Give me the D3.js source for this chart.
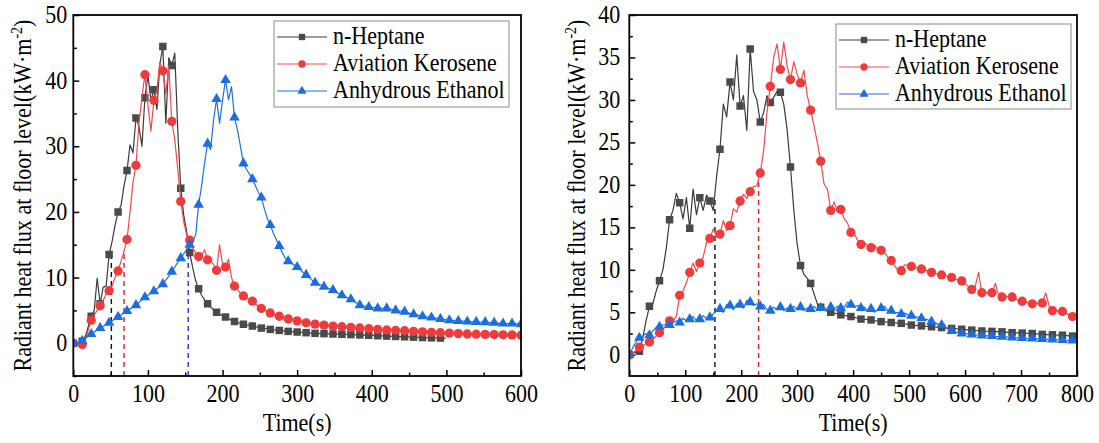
<!DOCTYPE html>
<html><head><meta charset="utf-8">
<script src="https://cdn.jsdelivr.net/npm/d3@7/dist/d3.min.js"></script>
<style>
body{margin:0;background:#fff}
svg{display:block}
text{font-family:"Liberation Serif","Times New Roman",serif;fill:#000}
</style>
</head><body>
<svg id="chart" width="1099" height="443"></svg>
<script>
// ---------------- DATA ----------------
const seriesNames = ["n-Heptane", "Aviation Kerosene", "Anhydrous Ethanol"];

// Left panel: values every 4 s starting at t = 0; a marker on every 3rd sample (12 s)
const leftStep = 4;
const leftMarkerEvery = 3;
const leftHeptane = [0,-0.1,0,0.3,1.0,2.5,4.1,5.0,9.9,6.0,8.5,8.7,13.5,15.5,18.0,20.0,21.0,24.0,26.3,30.2,29.0,34.3,33.0,30.0,37.4,40.8,37.0,38.6,35.6,42.5,45.2,33.5,43.5,42.3,44.2,32.5,23.6,19.5,17.0,13.8,11.5,9.5,8.3,7.3,6.6,6.0,5.5,5.1,4.7,4.4,4.2,4.0,3.7,3.5,3.3,3.15,3.0,2.9,2.8,2.7,2.6,2.5,2.4,2.3,2.25,2.2,2.1,2.05,2.0,1.95,1.9,1.85,1.8,1.77,1.73,1.7,1.67,1.63,1.6,1.57,1.53,
 1.5,1.48,1.46,1.45,1.43,1.42,1.4,1.38,1.37,1.35,1.34,1.32,1.3,1.29,1.27,1.26,1.24,1.22,1.2,1.18,1.16,1.14,1.12,1.1,1.08,1.06,1.04,1.02,1.0,0.99,0.97,0.95,0.93,0.92,0.9,0.88,0.86,0.85,0.83,0.82,0.8,0.79,0.78,0.76,0.75];
const leftKerosene = [0,-0.2,-0.3,-0.2,0.5,2.0,3.5,4.3,5.0,5.7,6.5,7.5,8.0,8.8,10.0,11.0,12.5,14.0,15.8,20.0,24.5,27.1,33.5,37.5,40.9,36.3,32.3,37.0,38.5,42.9,41.5,38.0,42.2,33.8,31.0,26.5,21.6,18.5,16.5,15.7,14.5,13.8,13.2,13.5,14.2,12.7,12.5,12.0,11.1,15.0,12.0,11.6,12.8,10.0,8.7,8.2,7.6,7.2,6.9,6.6,6.4,6.0,5.6,5.3,5.1,4.8,4.6,4.4,4.25,4.1,3.95,3.8,3.7,3.6,3.5,3.4,3.3,3.2,3.1,3.05,3.0,2.9,2.85,2.8,2.75,2.7,2.65,2.6,2.57,2.53,2.5,2.47,2.44,2.41,2.38,2.35,2.32,2.28,2.24,2.2,2.17,2.14,2.11,2.08,2.05,2.02,2.0,1.98,1.96,1.93,1.91,1.89,1.86,1.83,1.8,1.77,1.74,1.72,1.7,1.68,1.66,1.64,1.62,1.6,1.57,1.55,1.52,1.5,1.48,1.46,1.44,1.42,1.4,1.39,1.38,1.37,1.36,1.35,1.34,1.33,1.32,1.31,1.3,1.29,1.28,1.27,1.26,1.25,1.24,1.23,1.22];
const leftEthanol = [0,0.1,0.2,0.35,0.7,1.1,1.4,1.7,2.0,2.3,2.55,2.8,3.1,3.4,3.7,4.0,4.3,4.6,4.9,5.2,5.5,5.8,6.2,6.6,7.0,7.3,7.6,7.9,8.3,8.6,9.0,9.6,10.2,10.9,11.6,12.3,12.95,13.6,14.3,15.0,15.5,16.5,21.1,24.0,27.5,30.4,29.5,34.0,37.2,33.5,37.0,40.1,37.1,39.1,34.4,32.5,30.0,27.4,26.5,25.8,25.0,24.0,23.0,22.2,20.5,19.0,18.0,16.8,15.8,14.8,13.8,13.0,12.5,12.2,11.9,11.6,11.2,10.8,10.4,10.0,9.6,9.2,9.0,8.8,8.6,8.45,8.3,8.1,7.8,7.55,7.3,7.1,6.9,6.7,6.4,6.1,5.8,5.7,5.6,5.5,5.45,5.4,5.3,5.3,5.3,5.3,5.2,5.1,5.0,4.95,4.9,4.8,4.65,4.5,4.4,4.3,4.2,4.1,4.03,3.97,3.9,3.83,3.77,3.7,3.63,3.57,3.5,3.47,3.43,3.4,3.37,3.33,3.3,3.28,3.27,3.25,3.23,3.22,3.2,3.17,3.13,3.1,3.07,3.03,3.0,3.0,3.0,3.0,2.97,2.93,2.9];
const leftXTicks = [0,100,200,300,400,500,600];
const leftYTicks = [0,10,20,30,40,50];
// reference times (s) marked by dashed lines and the flux reached there, per series index
const leftMarkTimes = [51, 68, 154];
const leftMarkValues = [13.5, 13.8, 14.5];

// Right panel: values every 6 s starting at t = 0; a marker on every 3rd sample (18 s)
const rightStep = 6;
const rightMarkerEvery = 3;
const rightHeptane = [0,0.2,0.3,0.4,2.0,4.0,5.7,6.0,7.5,8.7,10.0,12.5,15.9,17.0,19.0,17.9,16.0,18.5,14.9,19.5,16.5,18.5,17.0,18.8,18.1,17.0,21.0,24.2,29.5,28.0,32.1,30.0,35.3,29.3,30.5,26.4,36.0,31.0,30.0,27.4,28.5,30.5,29.7,30.3,31.0,30.9,29.5,26.5,22.1,17.0,13.0,10.5,9.5,9.0,8.4,7.2,6.0,5.6,5.3,5.1,5.0,4.9,4.8,4.7,4.63,4.57,4.5,4.4,4.3,4.2,4.17,4.13,4.1,4.03,3.97,3.9,3.87,3.83,3.8,3.77,3.73,3.7,3.63,3.57,3.5,3.47,3.43,3.4,3.37,3.33,3.3,3.27,3.23,3.2,3.17,3.13,3.1,3.07,3.03,3.0,2.97,2.93,2.9,2.87,2.83,2.8,2.78,2.77,2.75,2.73,2.72,2.7,2.67,2.63,2.6,2.58,2.57,2.55,2.53,2.52,2.5,2.47,2.43,2.4,2.38,2.37,2.35,2.33,2.32,2.3,2.27,2.23,2.2,2.18];
const rightKerosene = [0,0.2,0.5,0.9,1.1,1.3,1.5,1.8,2.2,2.6,3.0,3.5,4.0,4.0,4.5,7.0,7.5,8.5,9.7,10.8,9.8,10.8,11.5,13.2,13.7,14.8,13.9,14.2,15.8,14.6,15.2,17.2,16.8,18.1,18.9,18.4,19.2,19.8,19.9,21.4,24.0,28.5,31.6,35.0,36.6,33.6,36.8,34.0,32.4,34.5,33.0,32.0,33.5,30.5,28.8,27.0,25.0,22.8,20.1,19.5,17.0,18.0,16.8,17.1,16.0,15.5,14.4,14.2,13.5,13.0,13.2,12.8,12.6,12.9,12.4,12.3,12.0,11.5,11.1,10.5,10.0,9.9,10.6,10.5,10.4,10.3,10.2,10.1,9.9,9.9,9.7,9.6,9.5,9.4,9.3,9.2,9.1,8.9,8.8,8.7,8.4,8.0,7.7,8.0,9.7,7.3,7.4,7.2,7.3,8.4,7.0,6.8,6.9,6.8,6.8,6.6,6.4,6.3,6.2,6.1,6.0,6.1,6.0,6.1,7.3,5.8,5.2,5.2,5.1,5.1,4.9,4.7,4.5,4.7];
const rightEthanol = [0,0.8,1.5,2.0,2.2,2.5,2.3,2.8,3.2,3.3,3.5,3.6,3.5,3.8,4.0,3.8,4.3,4.0,4.2,4.5,4.0,4.2,4.6,4.3,4.4,4.8,5.3,5.4,5.0,5.9,5.8,5.3,6.0,5.9,5.5,6.4,6.2,5.8,6.0,5.7,5.9,5.3,5.2,5.6,5.3,5.6,5.2,5.5,5.4,5.7,5.3,5.6,5.2,5.5,5.4,5.7,5.3,5.5,5.6,5.2,5.6,5.4,5.7,5.5,5.6,6.2,5.9,5.6,5.8,5.5,5.6,5.2,5.4,5.0,5.3,5.5,5.7,5.2,5.2,4.9,5.0,4.8,4.9,4.7,4.6,4.5,4.4,4.3,4.2,4.1,3.9,3.8,3.6,3.5,3.2,3.0,2.8,2.7,2.6,2.5,2.5,2.45,2.4,2.35,2.3,2.27,2.25,2.22,2.2,2.17,2.15,2.12,2.1,2.07,2.05,2.02,2.0,1.98,1.96,1.94,1.92,1.9,1.88,1.86,1.84,1.82,1.8,1.78,1.76,1.73,1.71,1.69,1.67,1.65];
const rightXTicks = [0,100,200,300,400,500,600,700,800];
const rightYTicks = [0,5,10,15,20,25,30,35,40];
const rightMarkTimes = [153, 231];
const rightMarkValues = [18.5, 20.3];

// ---------------- STYLE ----------------
const lineColors   = ["#3a3a3a", "#ee4b4b", "#1f6fdf"];
const markerColors = ["#4a4a4a", "#ef3b3b", "#1a6ee0"];
const dashColors   = ["#111111", "#e01f1f", "#2233dd"];
const symbols = [d3.symbolSquare, d3.symbolCircle, d3.symbolTriangle];
const symbolSizes = [56, 68, 48];
const legendSymbolSizes = [40, 42, 36];
const SY = 1.13; // vertical glyph stretch of the original typeface

const svg = d3.select("#chart");

function stretch(sel) {
  sel.each(function () {
    const t = d3.select(this);
    const x = +t.attr("x") || 0, y = +t.attr("y") || 0;
    t.attr("transform", `translate(${x},${y}) scale(1,${SY}) translate(${-x},${-y})`);
  });
}

function drawPanel(cfg) {
  const x = d3.scaleLinear().domain(cfg.xDomain).range([cfg.x0, cfg.x1]);
  const y = d3.scaleLinear().domain(cfg.yDomain).range([cfg.yBottom, cfg.yTop]);
  const g = svg.append("g");

  // minor ticks
  g.append("g").attr("transform", `translate(0,${cfg.yBottom})`)
    .call(d3.axisBottom(x).tickValues(cfg.xMinor).tickSize(-3.5).tickFormat(""))
    .call(a => a.select(".domain").remove())
    .call(a => a.selectAll("line").attr("stroke", "#000").attr("stroke-width", 1.5));
  g.append("g").attr("transform", `translate(${cfg.x0},0)`)
    .call(d3.axisLeft(y).tickValues(cfg.yMinor).tickSize(-3.5).tickFormat(""))
    .call(a => a.select(".domain").remove())
    .call(a => a.selectAll("line").attr("stroke", "#000").attr("stroke-width", 1.5));

  // major ticks + labels
  g.append("g").attr("transform", `translate(0,${cfg.yBottom})`)
    .call(d3.axisBottom(x).tickValues(cfg.xTicks).tickSize(-6).tickPadding(8).tickFormat(d3.format("d")))
    .call(a => a.select(".domain").remove())
    .call(a => a.selectAll("line").attr("stroke", "#000").attr("stroke-width", 1.5))
    .call(a => a.selectAll("text").attr("font-size", 22).attr("font-family", "Liberation Serif").attr("fill", "#000").call(stretch));
  g.append("g").attr("transform", `translate(${cfg.x0},0)`)
    .call(d3.axisLeft(y).tickValues(cfg.yTicks).tickSize(-6).tickPadding(cfg.yPad).tickFormat(d3.format("d")))
    .call(a => a.select(".domain").remove())
    .call(a => a.selectAll("line").attr("stroke", "#000").attr("stroke-width", 1.5))
    .call(a => a.selectAll("text").attr("font-size", 22).attr("font-family", "Liberation Serif").attr("fill", "#000").attr("dy", "0.3em").call(stretch));

  // dashed reference lines
  cfg.markTimes.forEach((t, i) => {
    g.append("line")
      .attr("x1", x(t)).attr("x2", x(t))
      .attr("y1", y(cfg.yDomain[0])).attr("y2", y(cfg.markValues[i]))
      .attr("stroke", dashColors[i]).attr("stroke-width", 1.4)
      .attr("stroke-dasharray", "5,4");
  });

  // series
  const clipId = "clip" + cfg.id;
  svg.append("clipPath").attr("id", clipId).append("rect")
    .attr("x", cfg.x0).attr("y", cfg.yTop).attr("width", cfg.x1 - cfg.x0).attr("height", cfg.yBottom - cfg.yTop);
  cfg.series.forEach((vals, si) => {
    const pts = vals.map((v, i) => [i * cfg.step, v]);
    const sg = g.append("g").attr("clip-path", `url(#${clipId})`);
    sg.append("path").datum(pts)
      .attr("fill", "none").attr("stroke", lineColors[si]).attr("stroke-width", 1.2)
      .attr("stroke-linejoin", "round")
      .attr("d", d3.line().x(d => x(d[0])).y(d => y(d[1])));
    const mk = pts.filter((d, i) => i % cfg.markerEvery === 0);
    sg.selectAll("path.m").data(mk).enter().append("path").attr("class", "m")
      .attr("transform", d => `translate(${x(d[0])},${y(d[1])})`)
      .attr("d", d3.symbol().type(symbols[si]).size(symbolSizes[si]))
      .attr("fill", markerColors[si]);
  });

  // frame
  g.append("rect").attr("x", cfg.x0).attr("y", cfg.yTop)
    .attr("width", cfg.x1 - cfg.x0).attr("height", cfg.yBottom - cfg.yTop)
    .attr("fill", "none").attr("stroke", "#000").attr("stroke-width", 1.8);

  // axis titles
  g.append("text").attr("x", (cfg.x0 + cfg.x1) / 2).attr("y", 431)
    .attr("text-anchor", "middle").attr("font-size", 22).text("Time(s)").call(stretch);
  const yl = g.append("text")
    .attr("transform", `translate(${cfg.yLabelX},${(cfg.yTop + cfg.yBottom) / 2}) rotate(-90) scale(1,${SY})`)
    .attr("text-anchor", "middle").attr("font-size", 22);
  yl.append("tspan").text("Radiant heat flux at floor level(kW·m");
  yl.append("tspan").attr("dy", -8).attr("font-size", 14).text("-2");
  yl.append("tspan").attr("dy", 8).text(")");

  // legend
  const L = cfg.legend;
  g.append("rect").attr("x", L.x).attr("y", L.y).attr("width", L.w).attr("height", L.h)
    .attr("fill", "#fff").attr("stroke", "#8a8a8a").attr("stroke-width", 1);
  seriesNames.forEach((name, i) => {
    const cy = L.y + L.row0 + i * L.dy;
    g.append("line").attr("x1", L.x + 3).attr("x2", L.x + 53).attr("y1", cy).attr("y2", cy)
      .attr("stroke", lineColors[i]).attr("stroke-width", 1.2);
    g.append("path").attr("transform", `translate(${L.x + 28},${cy})`)
      .attr("d", d3.symbol().type(symbols[i]).size(legendSymbolSizes[i]))
      .attr("fill", markerColors[i]);
    g.append("text").attr("x", L.x + 59).attr("y", cy + 7.5).attr("font-size", 22).text(name).call(stretch);
  });
}

drawPanel({
  id: "L", x0: 73.3, x1: 521, yTop: 15, yBottom: 376,
  xDomain: [0, 600], yDomain: [-5, 50],
  xTicks: leftXTicks, yTicks: leftYTicks,
  xMinor: [50,150,250,350,450,550], yMinor: [-5,5,15,25,35,45],
  yPad: 6, yLabelX: 31,
  step: leftStep, markerEvery: leftMarkerEvery,
  series: [leftHeptane, leftKerosene, leftEthanol],
  markTimes: leftMarkTimes, markValues: leftMarkValues,
  legend: { x: 274, y: 21, w: 235, h: 86, row0: 16, dy: 27 }
});
drawPanel({
  id: "R", x0: 629.3, x1: 1077, yTop: 15, yBottom: 376,
  xDomain: [0, 800], yDomain: [-2.5, 40],
  xTicks: rightXTicks, yTicks: rightYTicks,
  xMinor: [50,150,250,350,450,550,650,750], yMinor: [2.5,7.5,12.5,17.5,22.5,27.5,32.5,37.5],
  yPad: 9, yLabelX: 585,
  step: rightStep, markerEvery: rightMarkerEvery,
  series: [rightHeptane, rightKerosene, rightEthanol],
  markTimes: rightMarkTimes, markValues: rightMarkValues,
  legend: { x: 836, y: 24, w: 235, h: 85, row0: 16, dy: 27 }
});
</script>
</body></html>
